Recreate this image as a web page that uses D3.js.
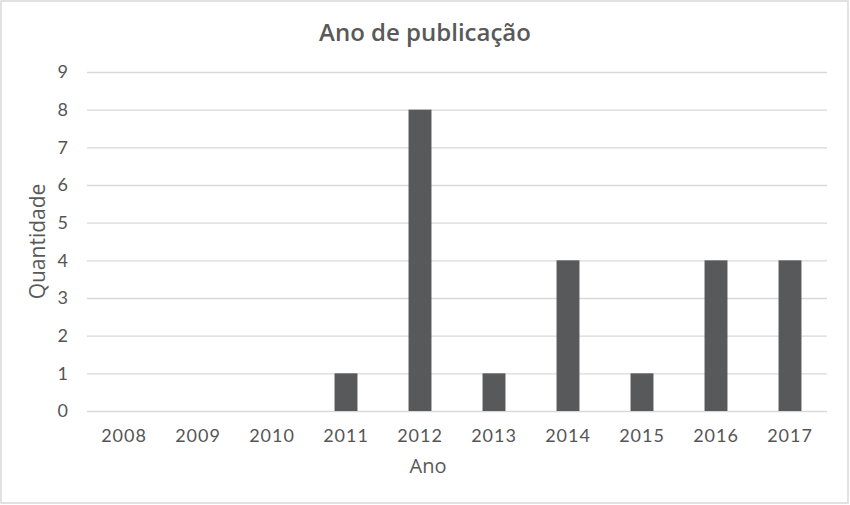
<!DOCTYPE html>
<html>
<head>
<meta charset="utf-8">
<script src="https://cdn.jsdelivr.net/npm/d3@7"></script>
<style>
  body { margin: 0; background: #fff; }
  svg { display: block; font-family: "Open Sans", "Noto Sans", sans-serif; }
</style>
</head>
<body>
<div class="chart"></div>
<script>
const years = ["2008", "2009", "2010", "2011", "2012", "2013", "2014", "2015", "2016", "2017"];
const counts = [0, 0, 0, 1, 8, 1, 4, 1, 4, 4];
const yTicks = [0, 1, 2, 3, 4, 5, 6, 7, 8, 9];

const width = 850, height = 505;
const margin = { top: 72, right: 23, bottom: 94, left: 87 };

const svg = d3.select(".chart")
    .append("svg")
    .attr("width", width)
    .attr("height", height);

// outer frame
svg.append("rect")
    .attr("x", 1).attr("y", 1)
    .attr("width", width - 3).attr("height", height - 3)
    .attr("fill", "#fff")
    .attr("stroke", "#d9d9d9")
    .attr("stroke-width", 1.5);

const x = d3.scaleBand()
    .domain(years)
    .range([margin.left, width - margin.right])
    .paddingInner(0.69)
    .paddingOuter(0.345);

const y = d3.scaleLinear()
    .domain([0, 9])
    .range([height - margin.bottom, margin.top]);

// gridlines
svg.append("g")
    .selectAll("line")
    .data(yTicks)
    .enter()
    .append("line")
    .attr("x1", margin.left)
    .attr("x2", width - margin.right)
    .attr("y1", d => y(d) + 0.5)
    .attr("y2", d => y(d) + 0.5)
    .attr("stroke", "#d9d9d9")
    .attr("stroke-width", 1.3);

// y axis labels
const yAxis = svg.append("g")
    .attr("transform", `translate(${margin.left},0)`)
    .call(d3.axisLeft(y).tickValues(yTicks).tickSize(0).tickPadding(19));
yAxis.select(".domain").remove();
yAxis.selectAll("text")
    .attr("fill", "#555")
    .style("font-size", "18px")
    .style("font-family", "Lato, 'Open Sans', sans-serif");

// bars
svg.append("g")
    .selectAll("rect")
    .data(years.map((yr, i) => ({ yr, v: counts[i] })))
    .enter()
    .append("rect")
    .attr("x", d => x(d.yr))
    .attr("width", x.bandwidth())
    .attr("y", d => y(d.v))
    .attr("height", d => y(0) - y(d.v))
    .attr("fill", "#58595b");

// x axis labels
const xAxis = svg.append("g")
    .attr("transform", `translate(0,${height - margin.bottom})`)
    .call(d3.axisBottom(x).tickSize(0).tickPadding(18));
xAxis.select(".domain").remove();
xAxis.selectAll("text")
    .attr("fill", "#555")
    .style("font-size", "18px")
    .style("letter-spacing", "1px")
    .style("font-family", "Lato, 'Open Sans', sans-serif");

// title
svg.append("text")
    .attr("x", 425)
    .attr("y", 41)
    .attr("text-anchor", "middle")
    .attr("fill", "#595959")
    .style("font-size", "24px")
    .style("font-weight", "600")
    .text("Ano de publicação");

// axis titles
svg.append("text")
    .attr("x", 428)
    .attr("y", 473)
    .attr("text-anchor", "middle")
    .attr("fill", "#595959")
    .style("font-size", "20px")
    .text("Ano");

svg.append("text")
    .attr("transform", `translate(45,${(margin.top + height - margin.bottom) / 2}) rotate(-90)`)
    .attr("text-anchor", "middle")
    .attr("fill", "#595959")
    .style("font-size", "21px")
    .text("Quantidade");
</script>
</body>
</html>
